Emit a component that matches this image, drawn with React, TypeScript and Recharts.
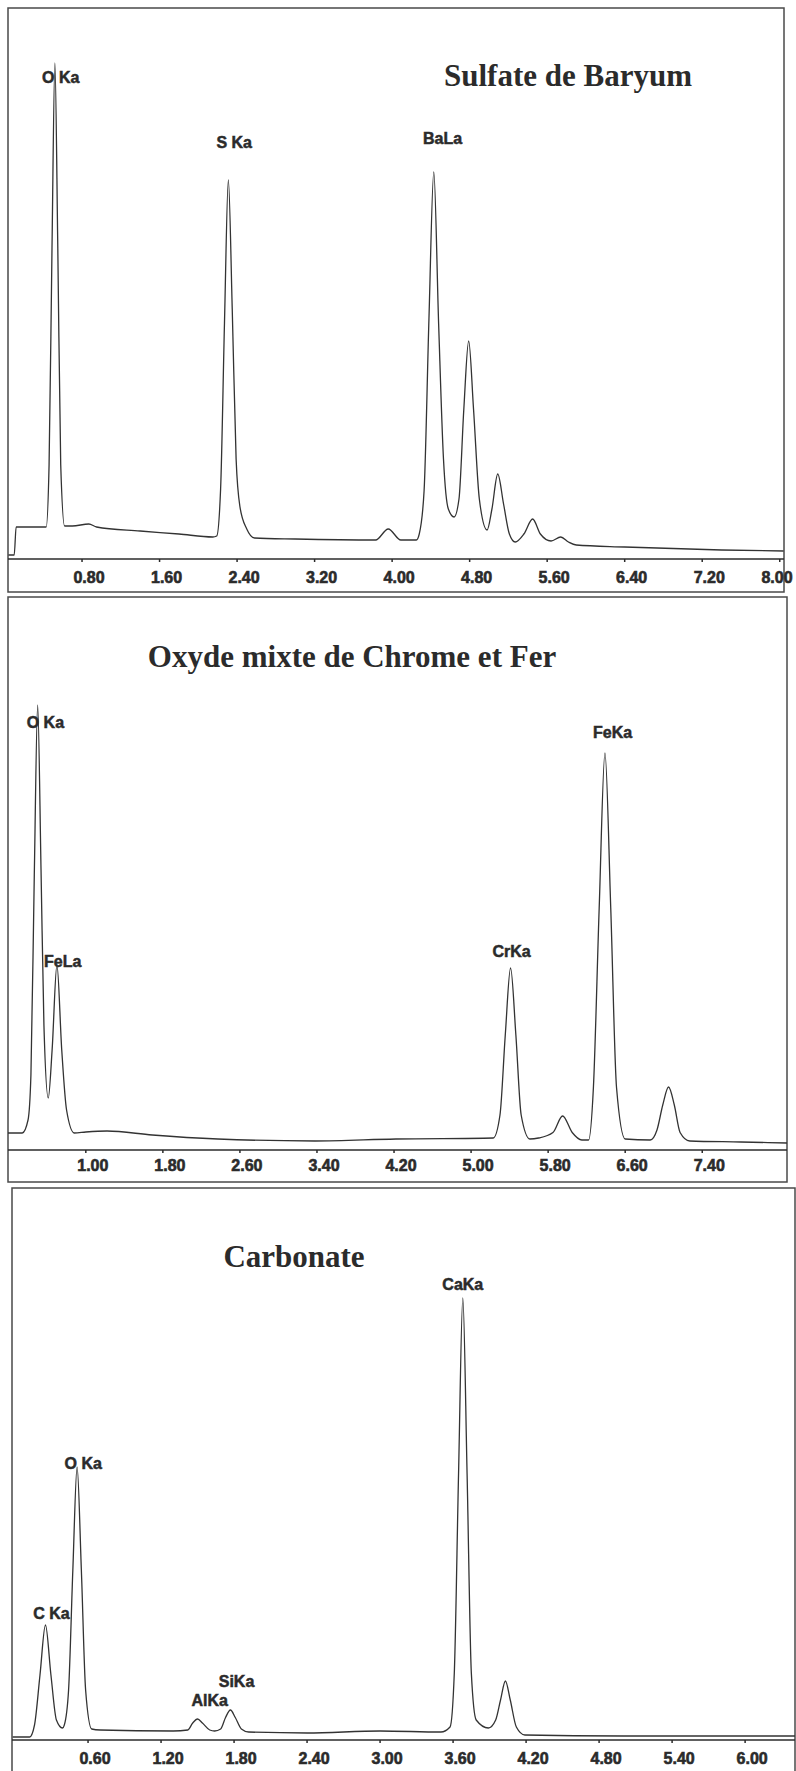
import { LineChart, Line, XAxis, YAxis, ReferenceDot } from "recharts";

// Sulfate de Baryum: energy (keV) and counts
const baryumKev = [
  0.04, 0.1, 0.12, 0.43, 0.46, 0.49, 0.52, 0.55, 0.58, 0.62, 0.7, 0.87, 0.95, 1.4, 1.8, 2.15, 2.19, 2.23, 2.27,
  2.31, 2.35, 2.39, 2.43, 2.5, 2.58, 3.0, 3.83, 3.96, 4.09, 4.25, 4.28, 4.33, 4.38, 4.43, 4.48, 4.53, 4.58, 4.64,
  4.69, 4.74, 4.79, 4.84, 4.9, 4.98, 5.03, 5.09, 5.15, 5.21, 5.27, 5.36, 5.45, 5.53, 5.64, 5.74, 5.82, 5.9, 6.4,
  7.4, 8.04,
];
const baryumCounts = [
  8, 8, 64, 64, 189, 621, 992, 621, 189, 66, 66, 70, 64, 56, 50, 44, 46, 140, 472, 758, 500, 200, 104, 60, 42, 40,
  38, 60, 38, 38, 50, 137, 480, 774, 470, 200, 100, 84, 120, 300, 436, 300, 120, 58, 100, 170, 110, 50, 34, 50, 80,
  50, 36, 44, 34, 28, 24, 18, 16,
];
const baryumTicks = [0.8, 1.6, 2.4, 3.2, 4.0, 4.8, 5.6, 6.4, 7.2, 8.0];
const baryumPeakNames = ["O Ka", "S Ka", "BaLa"];
const baryumPeakKev = [0.58, 2.37, 4.52];
const baryumPeakCounts = [964, 834, 842];

// Oxyde mixte de Chrome et Fer
const chromeKev = [
  0.19, 0.34, 0.4, 0.43, 0.465, 0.5, 0.535, 0.565, 0.61, 0.65, 0.7, 0.75, 0.8, 0.88, 1.0, 1.22, 1.69, 2.37, 3.38,
  4.22, 5.23, 5.3, 5.355, 5.41, 5.465, 5.52, 5.61, 5.7, 5.85, 5.95, 6.05, 6.15, 6.22, 6.27, 6.33, 6.39, 6.45, 6.51,
  6.6, 6.86, 6.93, 6.99, 7.05, 7.11, 7.17, 7.27, 7.8, 8.28,
];
const chromeCounts = [
  34, 34, 60, 150, 550, 890, 560, 250, 104, 200, 370, 200, 80, 34, 36, 38, 30, 22, 18, 22, 24, 70, 230, 364, 230,
  70, 22, 24, 35, 68, 35, 20, 20, 125, 484, 794, 484, 125, 22, 20, 40, 90, 126, 90, 35, 18, 16, 14,
];
const chromeTicks = [1.0, 1.8, 2.6, 3.4, 4.2, 5.0, 5.8, 6.6, 7.4];
const chromePeakNames = ["O Ka", "FeLa", "CrKa", "FeKa"];
const chromePeakKev = [0.58, 0.76, 5.42, 6.47];
const chromePeakCounts = [856, 378, 398, 836];

// Carbonate
const carbonateKev = [
  -0.02, 0.12, 0.16, 0.205, 0.25, 0.295, 0.34, 0.39, 0.405, 0.44, 0.475, 0.51, 0.545, 0.58, 0.63, 0.7, 1.3, 1.42,
  1.46, 1.5, 1.54, 1.6, 1.64, 1.69, 1.73, 1.77, 1.81, 1.86, 1.92, 2.4, 3.0, 3.5, 3.575, 3.61, 3.645, 3.68, 3.715,
  3.75, 3.79, 3.89, 3.95, 3.99, 4.03, 4.07, 4.12, 4.19, 5.0, 6.41,
];
const carbonateCounts = [
  6, 6, 30, 130, 230, 130, 40, 24, 30, 100, 340, 546, 340, 100, 22, 20, 18, 20, 34, 42, 34, 20, 18, 22, 45, 60, 45,
  22, 16, 14, 18, 16, 26, 134, 533, 884, 533, 134, 40, 24, 40, 80, 118, 80, 26, 10, 8, 8,
];
const carbonateTicks = [0.6, 1.2, 1.8, 2.4, 3.0, 3.6, 4.2, 4.8, 5.4, 6.0];
const carbonatePeakNames = ["C Ka", "O Ka", "AlKa", "SiKa", "CaKa"];
const carbonatePeakKev = [0.3, 0.56, 1.6, 1.82, 3.68];
const carbonatePeakCounts = [254, 554, 80, 118, 912];

const ink = "#2b2b2b";
const frame = "#4a4a4a";
const labelFont = "'Liberation Sans', Arial, sans-serif";

const toPoints = (kev: number[], counts: number[]) => kev.map((k, i) => ({ kev: k, counts: counts[i] }));

// keV labels sit a little right of their tick, but never past the panel edge
function KevTick(props: any) {
  const { x, y, payload, edge } = props;
  const cx = Math.min(x + 7, edge - 17);
  return (
    <text
      x={cx}
      y={y}
      dy="0.71em"
      textAnchor="middle"
      fontFamily={labelFont}
      fontWeight={700}
      fontSize={16}
      fill={ink}
      stroke={ink}
      strokeWidth={0.6}
    >
      {payload.value.toFixed(2)}
    </text>
  );
}

type SpectrumProps = {
  left: number;
  top: number;
  width: number;
  height: number;
  axisHeight: number;
  tickGap: number;
  xDomain: [number, number];
  yMax: number;
  ticks: number[];
  kev: number[];
  counts: number[];
  peakNames: string[];
  peakKev: number[];
  peakCounts: number[];
};

function Spectrum(p: SpectrumProps) {
  const data = toPoints(p.kev, p.counts);
  return (
    <div style={{ position: "absolute", left: p.left, top: p.top }}>
      <LineChart width={p.width} height={p.height} data={data} margin={{ top: 0, right: 0, bottom: 0, left: 0 }}>
        <XAxis
          type="number"
          dataKey="kev"
          domain={p.xDomain}
          ticks={p.ticks}
          interval={0}
          allowDataOverflow
          height={p.axisHeight}
          tickSize={3}
          tickMargin={p.tickGap}
          tick={<KevTick edge={p.width + 10} />}
          axisLine={{ stroke: ink, strokeWidth: 1.5 }}
          tickLine={{ stroke: ink, strokeWidth: 1.5 }}
        />
        <YAxis hide type="number" domain={[0, p.yMax]} allowDataOverflow />
        <Line
          type="monotone"
          dataKey="counts"
          stroke="#333"
          strokeWidth={1.3}
          dot={false}
          isAnimationActive={false}
        />
        {p.peakNames.map((name, i) => (
          <ReferenceDot
            key={name + i}
            x={p.peakKev[i]}
            y={p.peakCounts[i]}
            r={1}
            shape={(s: any) => (
              <text
                x={s.cx}
                y={s.cy}
                textAnchor="middle"
                dominantBaseline="central"
                fontFamily={labelFont}
                fontWeight={700}
                fontSize={16}
                fill={ink}
                stroke={ink}
                strokeWidth={0.5}
              >
                {name}
              </text>
            )}
          />
        ))}
      </LineChart>
    </div>
  );
}

const titleFont = "'Liberation Serif', 'Times New Roman', serif";

export default function App() {
  return (
    <div style={{ position: "absolute", left: 0, top: 0, width: 796, height: 1771, background: "#fff", overflow: "hidden" }}>
      {/* let the last tick label run past the plot edge */}
      <style>{".recharts-surface, .recharts-wrapper { overflow: visible !important; }"}</style>
      <svg width={796} height={1771} style={{ position: "absolute", left: 0, top: 0 }}>
        <g fill="none" stroke={frame} strokeWidth={1.5}>
          <rect x={8} y={8} width={776} height={584} />
          <rect x={8} y={597} width={779} height={585} />
          <rect x={12} y={1188} width={783} height={600} />
        </g>
        <g fontFamily={titleFont} fontWeight={700} fontSize={31} fill={ink} textAnchor="middle">
          <text x={568} y={86}>Sulfate de Baryum</text>
          <text x={352} y={667}>Oxyde mixte de Chrome et Fer</text>
          <text x={294} y={1267}>Carbonate</text>
        </g>
      </svg>

      <Spectrum
        left={8}
        top={8}
        width={776}
        height={584}
        axisHeight={33}
        tickGap={10}
        xDomain={[0.036, 8.044]}
        yMax={1102}
        ticks={baryumTicks}
        kev={baryumKev}
        counts={baryumCounts}
        peakNames={baryumPeakNames}
        peakKev={baryumPeakKev}
        peakCounts={baryumPeakCounts}
      />
      <Spectrum
        left={8}
        top={597}
        width={779}
        height={585}
        axisHeight={32}
        tickGap={7}
        xDomain={[0.192, 8.28]}
        yMax={1106}
        ticks={chromeTicks}
        kev={chromeKev}
        counts={chromeCounts}
        peakNames={chromePeakNames}
        peakKev={chromePeakKev}
        peakCounts={chromePeakCounts}
      />
      <Spectrum
        left={12}
        top={1188}
        width={783}
        height={583}
        axisHeight={31}
        tickGap={10}
        xDomain={[-0.025, 6.41]}
        yMax={1104}
        ticks={carbonateTicks}
        kev={carbonateKev}
        counts={carbonateCounts}
        peakNames={carbonatePeakNames}
        peakKev={carbonatePeakKev}
        peakCounts={carbonatePeakCounts}
      />
    </div>
  );
}
